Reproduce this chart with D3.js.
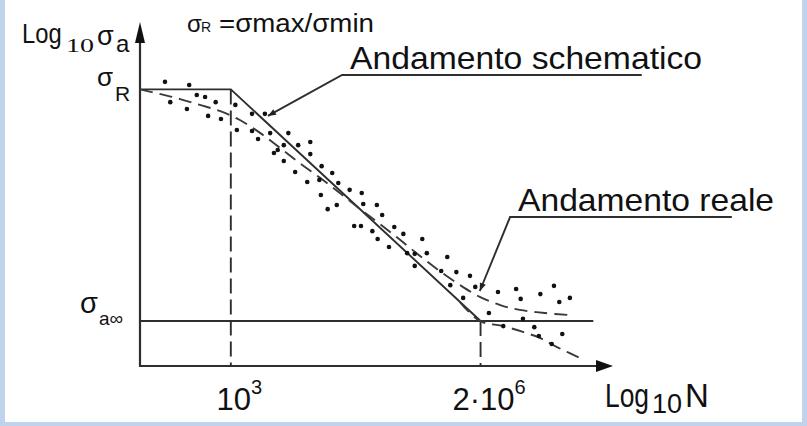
<!DOCTYPE html>
<html>
<head>
<meta charset="utf-8">
<script src="https://cdn.jsdelivr.net/npm/d3@7"></script>
<style>
  body { margin: 0; background: #bfd3ec; }
  svg { display: block; font-family: "Liberation Sans", Arial, sans-serif; }
</style>
</head>
<body>
<div id="graf"></div>
<script>
// values: x = log10 N, y = log10 sigma_a (relative units)
const sigmaR = 80.4
const sigmaInf = 13.1

const xTickValues = [3, 6.3]
const xTickBase = ['10', '2·10']
const xTickExp = ['3', '6']
const yTickValues = [sigmaR, sigmaInf]
const yTickBase = ['σ', 'σ']
const yTickSub = ['R', 'a∞']

// schematic curve (solid) and fatigue limit line
const schematicN = [1.8, 3, 6.3]
const schematicS = [sigmaR, sigmaR, sigmaInf]
const limitN = [1.8, 7.79]
const limitS = [sigmaInf, sigmaInf]

// real curve (dashed), upper branch levelling off
const realN = [1.8, 2.06, 2.33, 2.59, 2.86, 3.12, 3.39, 3.65, 3.91, 4.18, 4.44, 4.71, 4.97, 5.24, 5.5, 5.76, 6.03, 6.29, 6.56, 6.82, 7.15, 7.48]
const realS = [80.4, 79.1, 77.6, 75.9, 74.1, 71.5, 67.7, 63.4, 59.0, 54.7, 50.3, 45.6, 41.3, 36.6, 32.0, 27.6, 23.5, 20.1, 17.7, 16.3, 15.4, 14.8]
// lower dashed branch going on below the limit
const lowerN = [6.03, 6.29, 6.6, 6.86, 7.09, 7.31, 7.65]
const lowerS = [18.5, 13.1, 11.6, 9.9, 8.1, 5.5, 2.0]

// test points
const dotsN = [2.13, 2.45, 2.20, 2.55, 2.66, 2.80, 2.42, 2.70, 2.87, 3.06, 3.08, 3.28, 3.45, 3.28, 3.36, 3.52, 3.57, 3.62, 3.76, 3.70, 3.89, 4.05, 3.70, 4.05, 4.20, 3.85, 4.34, 4.01, 4.17, 4.42, 4.57, 4.73, 4.19, 4.40, 4.75, 4.93, 4.28, 5.00, 4.63, 4.72, 4.87, 5.16, 5.28, 4.94, 5.53, 5.09, 5.33, 5.43, 5.59, 5.86, 5.43, 5.98, 6.16, 5.78, 5.90, 6.23, 6.07, 6.53, 6.77, 6.83, 7.09, 7.27, 7.34, 7.48, 6.41, 6.86, 6.60, 7.01, 7.07, 7.38, 7.24]
const dotsS = [82.6, 81.7, 76.7, 78.8, 78.2, 76.7, 74.7, 72.7, 71.8, 75.9, 68.6, 73.3, 73.3, 68.3, 66.0, 67.7, 61.9, 62.8, 67.7, 64.2, 64.2, 65.1, 59.6, 61.6, 58.1, 56.4, 56.1, 53.5, 54.1, 53.2, 51.2, 50.3, 49.7, 46.8, 47.1, 46.8, 45.6, 43.9, 40.7, 40.7, 39.2, 40.4, 38.4, 36.9, 36.9, 34.6, 32.8, 32.6, 32.8, 31.7, 29.1, 27.3, 26.2, 27.6, 23.5, 23.0, 19.8, 21.5, 22.4, 19.5, 20.9, 23.3, 18.6, 19.8, 15.4, 13.7, 11.6, 11.3, 8.7, 9.3, 6.4]

// leader annotations
const annotText = ['Andamento schematico', 'Andamento reale']
const annotTipN = [3.49, 6.29]
const annotTipS = [72.7, 21.8]
const annotElbowN = [4.47, 6.69]
const annotElbowS = [84.6, 43.3]
const annotEndN = [8.43, 9.62]

const ancho = 807
const alto = 426
const ink = '#2e2e2e'
const textInk = '#111'

const svg = d3.select('#graf')
  .append('svg')
  .attr('width', ancho)
  .attr('height', alto)

svg.append('rect')
  .attr('width', ancho).attr('height', alto)
  .attr('fill', '#bfd3ec')
svg.append('rect')
  .attr('x', 5).attr('y', 0)
  .attr('width', 797).attr('height', 422)
  .attr('fill', '#fff')

const x = d3.scaleLinear().domain([1.8, 8.05]).range([140, 613])
const y = d3.scaleLinear().domain([0, 100]).range([366, 22])

const defs = svg.append('defs')
defs.append('marker')
  .attr('id', 'tip')
  .attr('viewBox', '0 0 10 10')
  .attr('refX', 10).attr('refY', 5)
  .attr('markerWidth', 12).attr('markerHeight', 8)
  .attr('markerUnits', 'userSpaceOnUse')
  .attr('orient', 'auto')
  .append('path')
  .attr('d', 'M0,1 L10,5 L0,9 Z')
  .attr('fill', '#222')

// axes lines with arrow heads
svg.append('line')
  .attr('x1', x(1.8)).attr('y1', y(0))
  .attr('x2', x(8.05) - 14).attr('y2', y(0))
  .attr('stroke', ink).attr('stroke-width', 2.2)
svg.append('path')
  .attr('d', `M${x(8.05)},${y(0)} L${x(8.05) - 17},${y(0) - 6} L${x(8.05) - 17},${y(0) + 6} Z`)
  .attr('fill', '#111')
svg.append('line')
  .attr('x1', x(1.8)).attr('y1', y(0) + 1)
  .attr('x2', x(1.8)).attr('y2', y(100) + 18)
  .attr('stroke', ink).attr('stroke-width', 2.2)
svg.append('path')
  .attr('d', `M${x(1.8)},${y(100)} L${x(1.8) - 5},${y(100) + 21} L${x(1.8) + 5},${y(100) + 21} Z`)
  .attr('fill', '#111')

// tick labels via d3 axes
const xAxis = d3.axisBottom(x).tickValues(xTickValues).tickSize(0)
svg.append('g')
  .attr('transform', `translate(0,${y(0)})`)
  .call(xAxis)
  .call(g => g.select('.domain').remove())
  .attr('font-size', null).attr('font-family', null)
  .selectAll('.tick text')
  .text(null)
  .attr('fill', textInk)
  .attr('y', 44).attr('dy', null)
  .attr('x', 8)
  .attr('text-anchor', 'middle')
  .each(function (d, i) {
    const t = d3.select(this)
    t.append('tspan').attr('font-size', 31).text(xTickBase[i])
    t.append('tspan').attr('font-size', 20).attr('dx', 0).attr('dy', -16).text(xTickExp[i])
  })

const yAxis = d3.axisLeft(y).tickValues(yTickValues).tickSize(0)
svg.append('g')
  .attr('transform', `translate(${x(1.8)},0)`)
  .call(yAxis)
  .call(g => g.select('.domain').remove())
  .attr('font-size', null).attr('font-family', null)
  .selectAll('.tick text')
  .text(null)
  .attr('fill', textInk)
  .attr('dy', null)
  .attr('text-anchor', 'start')
  .each(function (d, i) {
    const t = d3.select(this)
    if (i === 0) {
      t.append('tspan').attr('x', -43).attr('y', -4).attr('font-size', 26).text(yTickBase[i])
      t.append('tspan').attr('x', -25).attr('y', 11).attr('font-size', 21).text(yTickSub[i])
    } else {
      t.append('tspan').attr('x', -60).attr('y', -8).attr('font-size', 29).text(yTickBase[i])
      t.append('tspan').attr('x', -41).attr('y', 4).attr('font-size', 19).text(yTickSub[i])
    }
  })

const line = d3.line().x(d => x(d[0])).y(d => y(d[1]))
const smooth = d3.line().x(d => x(d[0])).y(d => y(d[1])).curve(d3.curveCatmullRom)

// dashed guides down to the axis
xTickValues.forEach((v, i) => {
  svg.append('path')
    .attr('d', line([[v, schematicS[i + 1]], [v, 0]]))
    .attr('stroke', ink).attr('stroke-width', 1.9)
    .attr('stroke-dasharray', '15,6')
    .attr('fill', 'none')
})

svg.append('path')
  .attr('d', line(limitN.map((n, i) => [n, limitS[i]])))
  .attr('stroke', ink).attr('stroke-width', 1.9).attr('fill', 'none')

svg.append('path')
  .attr('d', line(schematicN.map((n, i) => [n, schematicS[i]])))
  .attr('stroke', ink).attr('stroke-width', 1.9).attr('fill', 'none')

svg.append('path')
  .attr('d', smooth(realN.map((n, i) => [n, realS[i]])))
  .attr('stroke', '#3a3a3a').attr('stroke-width', 1.9)
  .attr('stroke-dasharray', '13,7').attr('fill', 'none')

svg.append('path')
  .attr('d', smooth(lowerN.map((n, i) => [n, lowerS[i]])))
  .attr('stroke', '#3a3a3a').attr('stroke-width', 1.9)
  .attr('stroke-dasharray', '13,7').attr('fill', 'none')

svg.selectAll('circle.dot')
  .data(dotsN)
  .enter()
  .append('circle')
  .attr('class', 'dot')
  .attr('cx', d => x(d))
  .attr('cy', (d, i) => y(dotsS[i]))
  .attr('r', 2.3)
  .attr('fill', '#111')

// leaders with labels
const labelWidths = [352, 256]
annotText.forEach((txt, i) => {
  const ex = x(annotElbowN[i]), ey = y(annotElbowS[i])
  svg.append('path')
    .attr('d', `M${x(annotEndN[i])},${ey} L${ex},${ey} L${x(annotTipN[i])},${y(annotTipS[i])}`)
    .attr('stroke', ink).attr('stroke-width', 1.9).attr('fill', 'none')
    .attr('marker-end', 'url(#tip)')
  svg.append('text')
    .attr('x', ex + 8).attr('y', ey - 6)
    .attr('font-size', 32)
    .attr('textLength', labelWidths[i])
    .attr('lengthAdjust', 'spacingAndGlyphs')
    .attr('fill', textInk)
    .text(txt)
})

// axis titles (narrow "Log" squeezed horizontally like the original)
const yTitle = svg.append('g').attr('fill', textInk)
yTitle.append('text').attr('transform', 'translate(22,43) scale(0.85,1)')
  .attr('font-size', 28).text('Log')
yTitle.append('text').attr('x', 66).attr('y', 51.5).attr('font-size', 19)
  .attr('font-family', '"Liberation Serif", serif')
  .attr('textLength', 28).attr('lengthAdjust', 'spacingAndGlyphs').text('10')
yTitle.append('text').attr('x', 97).attr('y', 44.5).attr('font-size', 27).text('σ')
yTitle.append('text').attr('x', 116).attr('y', 52).attr('font-size', 24).text('a')

const xTitle = svg.append('g').attr('fill', textInk)
xTitle.append('text').attr('transform', 'translate(605,407) scale(0.8,1)')
  .attr('font-size', 33).text('Log')
xTitle.append('text').attr('x', 652).attr('y', 413).attr('font-size', 27).text('10')
xTitle.append('text').attr('x', 685).attr('y', 407).attr('font-size', 33).text('N')

// ratio note on top
const note = svg.append('g').attr('fill', textInk)
note.append('text').attr('x', 187).attr('y', 32).attr('font-size', 24).text('σ')
note.append('text').attr('x', 201).attr('y', 32).attr('font-size', 14).text('R')
note.append('text').attr('x', 219).attr('y', 32).attr('font-size', 25)
  .attr('textLength', 155).attr('lengthAdjust', 'spacingAndGlyphs').text('=σmax/σmin')
</script>
</body>
</html>
